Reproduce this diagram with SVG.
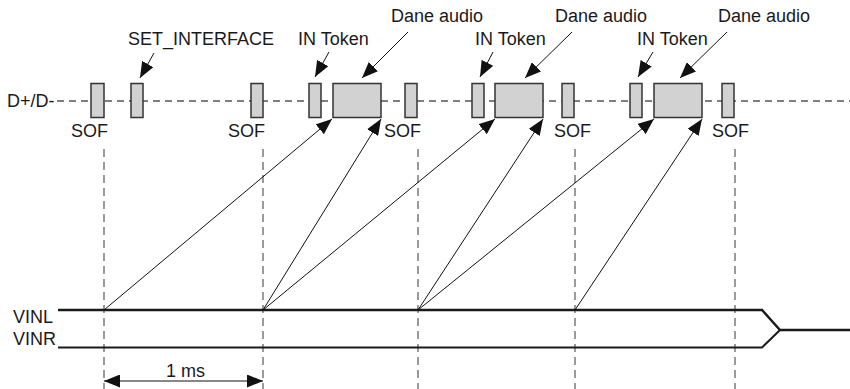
<svg xmlns="http://www.w3.org/2000/svg" width="850" height="389" viewBox="0 0 850 389">
<style>
text{font-family:"Liberation Sans",Arial,sans-serif;font-size:18px;fill:#1a1a1a}
.pkt{fill:#d2d2d2;stroke:#333;stroke-width:1.5}
.bus{fill:none;stroke:#555;stroke-width:1.3;stroke-dasharray:7 5}
.grid{fill:none;stroke:#666;stroke-width:1.3;stroke-dasharray:8 5}
.arr{fill:none;stroke:#111;stroke-width:1;marker-end:url(#ah)}
.sig{fill:none;stroke:#1a1a1a;stroke-linejoin:miter}
</style>
<defs>
<marker id="ah" markerWidth="16" markerHeight="13" refX="16" refY="6.5" orient="auto-start-reverse" markerUnits="userSpaceOnUse">
<path d="M0,0 L16,6.5 L0,13 z" fill="#111"/>
</marker>
</defs>
<rect width="850" height="389" fill="#fff"/>

<g id="bus">
<line class="bus" x1="57" y1="101" x2="850" y2="101"/>
<text x="7" y="107">D+/D-</text>
</g>

<g id="grid">
<line class="grid" x1="104" y1="149" x2="104" y2="389"/>
<line class="grid" x1="263" y1="149" x2="263" y2="389"/>
<line class="grid" x1="418" y1="149" x2="418" y2="389"/>
<line class="grid" x1="575" y1="149" x2="575" y2="389"/>
<line class="grid" x1="735" y1="149" x2="735" y2="389"/>
</g>

<g id="sof1"><rect class="pkt" x="91" y="83.5" width="13" height="34"/><text x="71" y="137">SOF</text></g>
<g id="setif"><rect class="pkt" x="131" y="83.5" width="12" height="34"/><text x="128" y="44.5">SET_INTERFACE</text></g>
<g id="sof2"><rect class="pkt" x="251" y="83.5" width="12" height="34"/><text x="228" y="137">SOF</text></g>
<g id="in1"><rect class="pkt" x="309" y="83.5" width="12" height="34"/><text x="298" y="44.5">IN Token</text></g>
<g id="dane1"><rect class="pkt" x="333" y="83.5" width="48" height="34"/><text x="391" y="22">Dane audio</text></g>
<g id="sof3"><rect class="pkt" x="405" y="83.5" width="12" height="34"/><text x="384" y="137">SOF</text></g>
<g id="in2"><rect class="pkt" x="472" y="83.5" width="12" height="34"/><text x="475" y="44.5">IN Token</text></g>
<g id="dane2"><rect class="pkt" x="495" y="83.5" width="48" height="34"/><text x="555" y="22">Dane audio</text></g>
<g id="sof4"><rect class="pkt" x="562" y="83.5" width="12" height="34"/><text x="554" y="137">SOF</text></g>
<g id="in3"><rect class="pkt" x="630" y="83.5" width="12" height="34"/><text x="637" y="44.5">IN Token</text></g>
<g id="dane3"><rect class="pkt" x="654" y="83.5" width="48" height="34"/><text x="718" y="22">Dane audio</text></g>
<g id="sof5"><rect class="pkt" x="722" y="83.5" width="12" height="34"/><text x="712" y="137">SOF</text></g>

<g id="signals">
<path class="sig" stroke-width="2.5" d="M58,310 H762 L780,330 H850"/>
<path class="sig" stroke-width="2" d="M58,347.5 H762 L780,330"/>
<text x="13" y="323">VINL</text>
<text x="13" y="345">VINR</text>
</g>

<g id="connectors">
<line class="arr" x1="154" y1="53" x2="140" y2="78"/>
<line class="arr" x1="329" y1="52" x2="315" y2="77"/>
<line class="arr" x1="408" y1="32" x2="362" y2="78"/>
<line class="arr" x1="493" y1="52" x2="480" y2="77"/>
<line class="arr" x1="572" y1="32" x2="525" y2="78"/>
<line class="arr" x1="653" y1="52" x2="638" y2="77"/>
<line class="arr" x1="727" y1="32" x2="680" y2="78"/>

<line class="arr" x1="104" y1="310" x2="332" y2="119"/>
<line class="arr" x1="263" y1="310" x2="381" y2="119"/>
<line class="arr" x1="263" y1="310" x2="495" y2="119"/>
<line class="arr" x1="418" y1="310" x2="543" y2="119"/>
<line class="arr" x1="418" y1="310" x2="654" y2="119"/>
<line class="arr" x1="575" y1="310" x2="702" y2="119"/>
</g>

<g id="period">
<line x1="104" y1="381" x2="263" y2="381" stroke="#111" stroke-width="1" marker-start="url(#ah)" marker-end="url(#ah)"/>
<text x="166" y="377">1 ms</text>
</g>
</svg>
